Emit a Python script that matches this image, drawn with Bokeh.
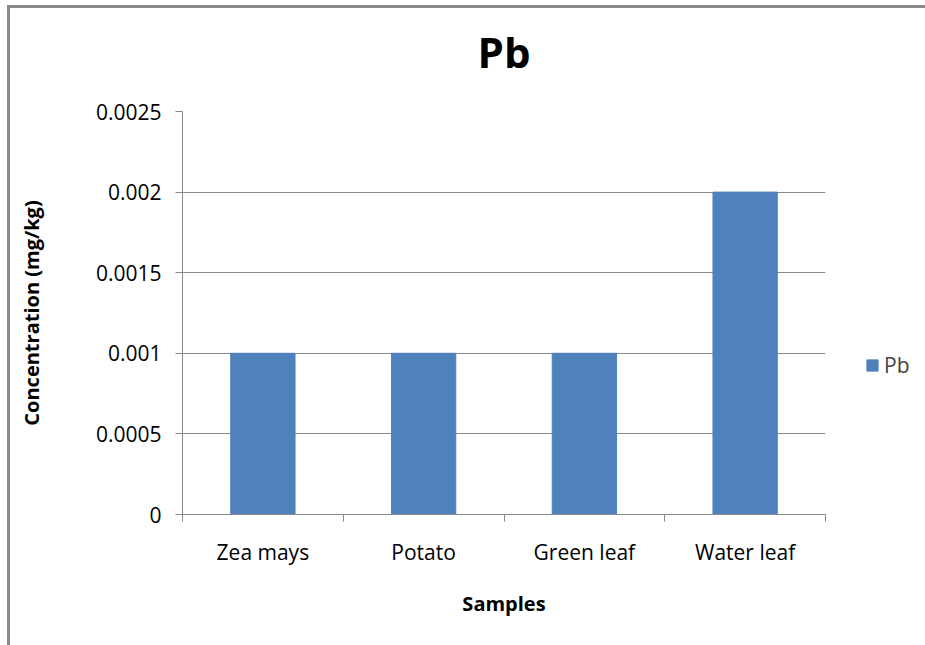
from bokeh.plotting import figure
from bokeh.models import Range1d, FixedTicker, Legend, LegendItem, ColumnDataSource, Title
from bokeh.embed import file_html
from bokeh.resources import INLINE

categories = ["Zea mays", "Potato", "Green leaf", "Water leaf"]
pb_values = [0.001, 0.001, 0.001, 0.002]
y_ticks = [0, 0.0005, 0.001, 0.0015, 0.002, 0.0025]
y_tick_labels = ["0", "0.0005", "0.001", "0.0015", "0.002", "0.0025"]

FONT = "Open Sans"
BAR = "#4F81BD"
GRAY = "#898989"

x_centers = [i + 0.5 for i in range(len(categories))]
src = ColumnDataSource(dict(x=x_centers, top=pb_values, cat=categories))

p = figure(frame_width=643, frame_height=403, output_backend="svg", toolbar_location=None,
           x_range=Range1d(0, len(categories)), y_range=Range1d(0, 0.0025),
           min_border_left=172, min_border_right=100, min_border_top=0, min_border_bottom=131,
           margin=(5, 0, 0, 7),
           styles={"border-left": "3px solid #898989", "border-top": "3px solid #898989"})
p.outline_line_color = None
p.background_fill_color = "white"
p.border_fill_color = "white"

# main title (outer "above" slot)
p.title.text = "Pb"
p.title.align = "center"
p.title.vertical_align = "bottom"
p.title.text_font = FONT
p.title.text_font_size = "42px"
p.title.text_font_style = "bold"
p.title.text_color = "black"
p.title.standoff = 24

# spacer between frame and title (added later -> sits next to the frame)
spacer = Title(text=" ", text_font=FONT, text_font_size="8px", standoff=7)
p.add_layout(spacer, "above")

r = p.vbar(x="x", top="top", width=0.4, bottom=0, source=src, color=BAR)

# y axis
ya = p.yaxis[0]
ya.ticker = FixedTicker(ticks=y_ticks, minor_ticks=[])
ya.major_label_overrides = {t: l for t, l in zip(y_ticks, y_tick_labels)}
ya.axis_line_color = GRAY
ya.major_tick_line_color = GRAY
ya.major_tick_out = 7
ya.major_tick_in = 0
ya.major_label_text_font = FONT
ya.major_label_text_font_size = "21px"
ya.major_label_text_color = "black"
ya.major_label_standoff = 14
ya.axis_label = "Concentration (mg/kg)"
ya.axis_label_text_font = FONT
ya.axis_label_text_font_size = "20px"
ya.axis_label_text_font_style = "bold"
ya.axis_label_text_color = "black"
ya.axis_label_standoff = 48

# x axis
xa = p.xaxis[0]
xa.ticker = FixedTicker(ticks=x_centers, minor_ticks=list(range(len(categories) + 1)))
xa.major_label_overrides = {x: c for x, c in zip(x_centers, categories)}
xa.axis_line_color = GRAY
xa.major_tick_line_color = None
xa.major_tick_out = 0
xa.major_tick_in = 0
xa.minor_tick_line_color = GRAY
xa.minor_tick_out = 7
xa.minor_tick_in = 0
xa.major_label_text_font = FONT
xa.major_label_text_font_size = "21px"
xa.major_label_text_color = "black"
xa.major_label_standoff = 16
xa.axis_label = "Samples"
xa.axis_label_text_font = FONT
xa.axis_label_text_font_size = "20px"
xa.axis_label_text_font_style = "bold"
xa.axis_label_text_color = "black"
xa.axis_label_standoff = 21

p.xgrid.grid_line_color = None
p.ygrid.ticker = FixedTicker(ticks=y_ticks)
p.ygrid.grid_line_color = GRAY
p.ygrid.grid_line_width = 1

legend = Legend(items=[LegendItem(label="Pb", renderers=[r])], location=(40, 135),
                border_line_color=None, background_fill_alpha=0,
                label_text_font=FONT, label_text_font_size="21px",
                glyph_width=14, glyph_height=14, label_standoff=5, padding=0, margin=0)
p.add_layout(legend, "right")

open("out.html", "w").write(file_html(p, INLINE))
